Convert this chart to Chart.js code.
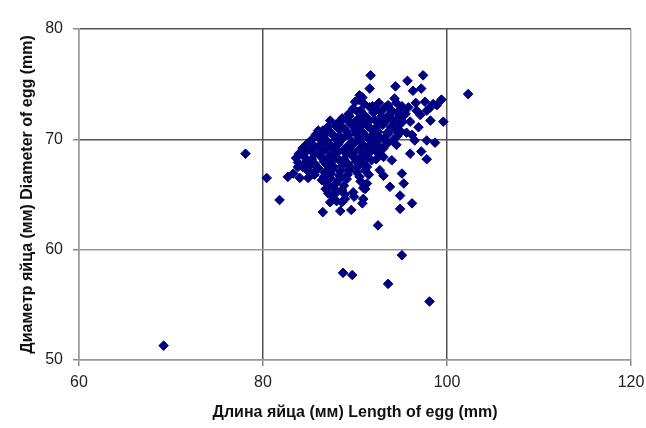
<!DOCTYPE html>
<html>
<head>
<meta charset="utf-8">
<script src="https://cdn.jsdelivr.net/npm/chart.js@4"></script>
<style>
  body { margin: 0; background: #fff; }
  #wrap { width: 646px; height: 428px; }
</style>
</head>
<body>
<div id="wrap"><canvas id="eggChart" width="646" height="428"></canvas></div>
<script>
// axis ticks
const xTicks = [60, 80, 100, 120];
const yTicks = [50, 60, 70, 80];

// scattered points outside the dense core (length, diameter), mm
const outerLength = [
  69.2, 78.1, 80.4, 81.8, 88.7, 89.7, 93.6, 95.1, 98.1, 92.5,
  102.3, 91.7, 97.4, 95.7, 94.4, 91.6, 96.3, 97.2, 90.4, 90.8,
  90.0, 90.5, 94.3, 99.4, 98.9, 99.6, 98.2, 96.9, 96.7, 97.1,
  98.2, 96.5, 97.8, 98.7, 87.3, 88.0, 86.0, 86.6, 97.2, 97.8,
  96.0, 94.0, 92.7, 93.1, 95.1, 95.3, 93.8, 94.9, 96.2, 94.9,
  90.9, 91.1, 82.7, 83.3, 83.8, 84.0, 84.9, 86.5, 88.4, 89.6,
  90.8, 87.3, 88.0, 88.6, 87.5, 88.9, 89.9, 96.6, 97.6, 95.8,
  96.0, 95.6, 96.2, 97.8, 98.5
];
const outerDiameter = [
  51.3, 68.7, 66.5, 64.5, 57.9, 57.7, 56.9, 59.5, 55.3, 62.2,
  74.1, 75.8, 75.8, 75.3, 74.8, 74.6, 74.4, 74.6, 73.6, 73.8,
  73.4, 74.0, 73.7, 73.6, 73.1, 71.6, 71.7, 71.1, 72.6, 72.2,
  72.9, 69.9, 69.9, 69.7, 71.7, 71.4, 70.8, 70.5, 68.9, 68.2,
  68.7, 68.1, 67.2, 66.7, 66.9, 66.0, 65.7, 64.9, 64.2, 63.7,
  64.6, 65.5, 66.6, 66.9, 67.5, 66.5, 66.5, 63.4, 63.5, 63.6,
  64.2, 64.3, 64.4, 64.3, 64.9, 64.6, 64.8, 73.3, 73.4, 72.9,
  71.6, 70.6, 70.4, 72.6, 73.2
];

// dense core, read row by row from top to bottom
const coreLength = [
  91.0, 91.9, 92.6, 93.6, 94.5, 95.1,
  89.8, 90.6, 91.6, 92.3, 93.3, 94.0, 95.0,
  89.3, 90.3, 91.0, 92.0, 92.8, 93.7, 94.6, 95.5,
  88.6, 89.4, 90.4, 91.2, 92.1, 92.9, 94.0, 94.8,
  88.3, 89.2, 89.9, 90.8, 91.6, 92.6, 93.4, 94.3, 95.2,
  87.0, 87.9, 88.8, 89.6, 90.5, 91.4, 92.2, 93.0, 93.9, 94.7,
  86.5, 87.4, 88.3, 89.1, 90.0, 90.9, 91.8, 92.5, 93.5, 94.3, 95.0,
  85.7, 86.6, 87.5, 88.3, 89.3, 90.1, 91.0, 91.9, 92.7, 93.6, 94.6,
  85.2, 86.1, 86.9, 87.9, 88.7, 89.7, 90.5, 91.4, 92.3, 93.1, 94.1,
  84.8, 85.6, 86.5, 87.3, 88.2, 89.2, 90.0, 90.9, 91.8, 92.6, 93.6, 94.5,
  84.3, 85.2, 86.0, 86.9, 87.8, 88.7, 89.5, 90.5, 91.3, 92.2, 93.1,
  83.9, 84.7, 85.6, 86.4, 87.4, 88.2, 89.1, 89.9, 90.9, 91.7, 92.7,
  83.6, 84.5, 85.3, 86.2, 87.0, 87.9, 88.8, 89.7, 90.5, 91.4, 92.3, 93.1,
  83.8, 84.7, 85.6, 86.6, 87.4, 88.3, 89.2, 90.1, 90.9, 91.8,
  84.3, 85.1, 86.0, 86.9, 87.7, 88.6, 89.6, 90.4, 91.3,
  84.9, 85.8, 86.7, 87.5, 88.4, 89.3, 90.2, 91.1,
  85.6, 86.6, 87.4, 88.3, 89.2, 90.5, 91.5,
  86.4, 87.3, 88.2, 89.1, 90.6,
  87.0, 87.9, 88.8, 91.3,
  86.8, 87.7, 88.6, 90.9,
  87.1, 88.0, 88.9, 89.8
];
const coreDiameter = [
  73.2, 73.0, 73.3, 73.1, 73.3, 73.0,
  72.8, 72.6, 72.9, 72.7, 72.9, 72.6, 72.8,
  72.3, 72.5, 72.2, 72.4, 72.5, 72.2, 72.4, 72.3,
  71.9, 72.1, 71.9, 72.0, 71.8, 72.1, 71.9, 72.0,
  71.5, 71.7, 71.5, 71.6, 71.7, 71.5, 71.7, 71.5, 71.6,
  71.1, 71.2, 71.0, 71.3, 71.1, 71.2, 71.0, 71.3, 71.1, 71.2,
  70.8, 70.6, 70.9, 70.7, 70.8, 70.6, 70.9, 70.7, 70.6, 70.9, 70.7,
  70.4, 70.3, 70.5, 70.3, 70.4, 70.5, 70.3, 70.4, 70.2, 70.5, 70.3,
  69.9, 70.1, 69.9, 70.0, 70.1, 69.8, 70.0, 70.1, 69.9, 70.0, 69.9,
  69.6, 69.4, 69.7, 69.5, 69.6, 69.4, 69.7, 69.5, 69.6, 69.4, 69.7, 69.5,
  69.2, 69.0, 69.3, 69.1, 69.2, 69.0, 69.3, 69.1, 69.2, 69.0, 69.2,
  68.7, 68.9, 68.7, 68.8, 68.6, 68.9, 68.7, 68.8, 68.6, 68.9, 68.7,
  68.3, 68.4, 68.2, 68.5, 68.3, 68.4, 68.2, 68.5, 68.3, 68.4, 68.2, 68.4,
  67.9, 68.0, 67.8, 68.0, 67.9, 68.1, 67.8, 68.0, 67.9, 68.1,
  67.5, 67.6, 67.4, 67.7, 67.5, 67.6, 67.4, 67.6, 67.5,
  67.1, 67.2, 67.0, 67.3, 67.1, 67.2, 67.0, 67.2,
  66.8, 66.6, 66.9, 66.7, 66.8, 66.6, 66.8,
  66.3, 66.5, 66.3, 66.4, 66.2,
  65.9, 66.0, 65.8, 66.0,
  65.5, 65.6, 65.4, 65.6,
  65.1, 65.2, 65.0, 65.2
];

const points = [];
outerLength.forEach((x, i) => points.push({ x: x, y: outerDiameter[i] }));
coreLength.forEach((x, i) => points.push({ x: x, y: coreDiameter[i] }));

Chart.defaults.font.family = "'Liberation Sans', Arial, sans-serif";

// grid colours: inner lines dark, frame light
function gridColor(c) {
  const v = c.tick ? c.tick.value : null;
  if (v === 120) return "#b0b0b0";
  if (v === 50 || v === 60) return "#999";
  return "#555";
}

new Chart(document.getElementById("eggChart"), {
  type: "scatter",
  data: {
    datasets: [
      {
        data: points,
        backgroundColor: "#000080",
        borderColor: "#000080",
        borderWidth: 1,
        pointStyle: "rectRot",
        pointRadius: 4.8,
      },
    ],
  },
  options: {
    responsive: false,
    animation: false,
    layout: { padding: { top: 29, right: 15, left: 0, bottom: 0 } },
    plugins: { legend: { display: false }, tooltip: { enabled: false } },
    scales: {
      x: {
        type: "linear",
        min: 60,
        max: 120,
        afterBuildTicks: (s) => { s.ticks = xTicks.map((v) => ({ value: v })); },
        afterFit: (s) => {
          s.height = 68;
          s.paddingLeft = 0;
          s.paddingRight = 0;
        },
        ticks: { color: "#222", font: { size: 16 }, padding: 7 },
        grid: { color: gridColor, lineWidth: 1.5, tickLength: 6, tickColor: "#888" },
        border: { color: "#999", width: 1.5 },
        title: {
          display: true,
          text: "Длина яйца (мм) Length of egg (mm)",
          color: "#111",
          font: { size: 16, weight: "bold" },
          padding: { top: 0, bottom: 6 },
        },
      },
      y: {
        type: "linear",
        min: 50,
        max: 80,
        afterBuildTicks: (s) => { s.ticks = yTicks.map((v) => ({ value: v })); },
        afterFit: (s) => {
          s.width = 79;
          s.paddingTop = 0;
          s.paddingBottom = 0;
        },
        ticks: { color: "#222", font: { size: 16 }, padding: 10 },
        grid: { color: gridColor, lineWidth: 1.5, tickLength: 6, tickColor: "#888" },
        border: { color: "#999", width: 1.5 },
        title: {
          display: true,
          text: "Диаметр яйца (мм) Diameter of egg (mm)",
          color: "#111",
          font: { size: 16, weight: "bold" },
          padding: { top: 18, bottom: 0 },
        },
      },
    },
  },
});
</script>
</body>
</html>
